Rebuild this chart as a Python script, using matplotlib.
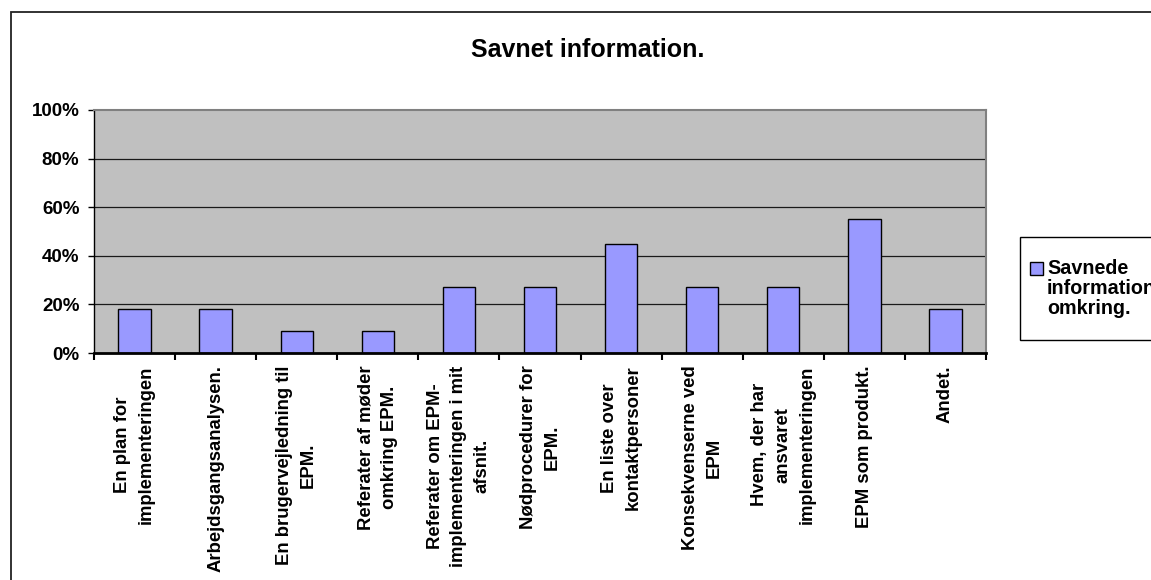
import matplotlib
matplotlib.use("Agg")
import matplotlib.pyplot as plt
from matplotlib.patches import Rectangle
from matplotlib.ticker import FuncFormatter, FixedLocator

plt.rcParams['font.family'] = ['Liberation Sans', 'DejaVu Sans']
plt.rcParams['font.weight'] = 'bold'

title = "Savnet information."
series_name = "Savnede\ninformation\nomkring."
categories = [
    "En plan for\nimplementeringen",
    "Arbejdsgangsanalysen.",
    "En brugervejledning til\nEPM.",
    "Referater af møder\nomkring EPM.",
    "Referater om EPM-\nimplementeringen i mit\nafsnit.",
    "Nødprocedurer for\nEPM.",
    "En liste over\nkontaktpersoner",
    "Konsekvenserne ved\nEPM",
    "Hvem, der har\nansvaret\nimplementeringen",
    "EPM som produkt.",
    "Andet.",
]
values = [0.18, 0.18, 0.09, 0.09, 0.27, 0.27, 0.45, 0.27, 0.27, 0.55, 0.18]
yticks = [0, 0.2, 0.4, 0.6, 0.8, 1.0]

BAR_COLOR = '#9999FF'
W, H = 1151, 580
fig = plt.figure(figsize=(W / 100, H / 100), dpi=100)
fig.patch.set_facecolor('white')

# outer chart border
fig.patches.append(Rectangle((11 / W, -0.1), 1.2, 1 - 12 / H + 0.1, transform=fig.transFigure,
                             fill=False, edgecolor='#222222', linewidth=1.3))

ax = fig.add_axes([94 / W, 1 - 353 / H, (986 - 94) / W, (353 - 110) / H])
ax.set_facecolor('#C0C0C0')

n = len(categories)
x = list(range(n))
ax.bar(x, values, width=0.4, color=BAR_COLOR, edgecolor='black', linewidth=1.0, zorder=3)

ax.set_xlim(-0.5, n - 0.5)
ax.set_ylim(0, 1.0)

ax.set_yticks(yticks)
ax.yaxis.set_major_formatter(FuncFormatter(lambda v, p: f"{v * 100:.0f}%"))
ax.tick_params(axis='y', direction='out', length=4.5, width=1, pad=6, labelsize=13.5)
for lbl in ax.get_yticklabels():
    lbl.set_fontweight('bold')

for v in yticks[1:-1]:
    ax.axhline(v, color='#1a1a1a', linewidth=0.9, zorder=1)

ax.xaxis.set_major_locator(FixedLocator([i - 0.5 for i in range(n + 1)]))
ax.xaxis.set_major_formatter(FuncFormatter(lambda v, p: ""))
ax.xaxis.set_minor_locator(FixedLocator(x))
ax.set_xticklabels(categories, minor=True, rotation=90, ha='center', va='top',
                   fontsize=13.3, fontweight='bold', multialignment='center', linespacing=1.5)
ax.tick_params(axis='x', which='major', direction='out', length=5, width=1.5)
ax.tick_params(axis='x', which='minor', length=0, pad=9)

for s in ['top', 'right']:
    ax.spines[s].set_color('#808080')
    ax.spines[s].set_linewidth(1.5)
ax.spines['left'].set_color('black')
ax.spines['left'].set_linewidth(1.0)
ax.spines['bottom'].set_color('black')
ax.spines['bottom'].set_linewidth(2.0)
ax.spines['bottom'].set_zorder(5)

fig.text(588 / W, 1 - 50 / H, title, ha='center', va='center', fontsize=18, fontweight='bold')

# legend box (drawn by hand so the key sits beside the first line)
fig.patches.append(Rectangle((1020 / W, 1 - 340 / H), 0.2, (340 - 237) / H, transform=fig.transFigure,
                             facecolor='white', edgecolor='black', linewidth=1.0, zorder=5))
fig.patches.append(Rectangle((1030 / W, 1 - 275 / H), 13 / W, 13 / H, transform=fig.transFigure,
                             facecolor=BAR_COLOR, edgecolor='black', linewidth=1.0, zorder=6))
fig.text(1047 / W, 1 - 259 / H, series_name, ha='left', va='top', fontsize=14.2,
         fontweight='bold', linespacing=1.08, zorder=7)

fig.savefig('out.png', dpi=100)
